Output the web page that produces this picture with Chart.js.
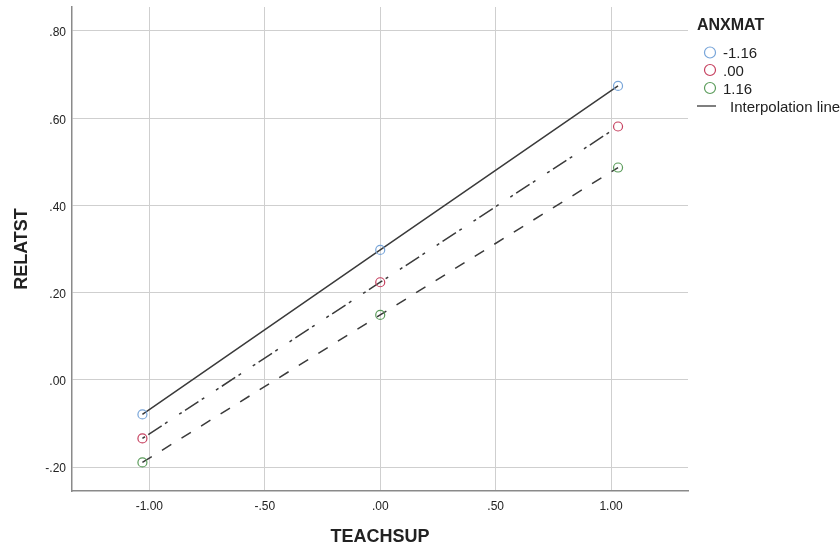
<!DOCTYPE html>
<html><head><meta charset="utf-8">
<script src="https://cdn.jsdelivr.net/npm/chart.js@4.4.0/dist/chart.umd.min.js"></script>
<style>html,body{margin:0;padding:0;background:#fff;} #wrap{width:840px;height:547px;position:relative;}</style>
</head><body><div id="wrap"><canvas id="c" width="840" height="547"></canvas></div>
<script>
// ---- data ----
const teachsup = [-1.03, 0.00, 1.03];
const anxmatLabels = ['-1.16', '.00', '1.16'];
const relatstLow  = [-0.079, 0.298, 0.674];  // ANXMAT -1.16
const relatstMid  = [-0.134, 0.224, 0.581];  // ANXMAT .00
const relatstHigh = [-0.189, 0.149, 0.487];  // ANXMAT 1.16
const xTicks = [-1.0, -0.5, 0.0, 0.5, 1.0];
const yTicks = [-0.2, 0.0, 0.2, 0.4, 0.6, 0.8];
const legendTitle = 'ANXMAT';
const lineLabel = 'Interpolation line';
const xTitle = 'TEACHSUP';
const yTitle = 'RELATST';

// ---- styles ----
const FONT = '"Liberation Sans", Arial, Helvetica, sans-serif';
const pointColors = ['#78a5d9', '#c6405f', '#5b9c5b'];
const lineColor = '#3a3a3a';
const dashes = [[], [3, 4, 16, 4, 3, 14], [11, 12]];

function fmt(v) {
  return Number(v).toFixed(2).replace(/^(-?)0\./, '$1.');
}
function pts(ys) { return teachsup.map((x, i) => ({x: x, y: ys[i]})); }

const series = [relatstLow, relatstMid, relatstHigh];
const datasets = [];
series.forEach((ys, i) => {
  datasets.push({
    label: lineLabel + ' ' + anxmatLabels[i],
    data: pts(ys),
    showLine: true,
    borderColor: lineColor,
    borderWidth: 1.5,
    borderDash: dashes[i],
    borderCapStyle: 'butt',
    pointRadius: 0,
    fill: false,
    order: 2
  });
});
series.forEach((ys, i) => {
  datasets.push({
    label: anxmatLabels[i],
    data: pts(ys),
    showLine: false,
    pointRadius: 4.5,
    pointBorderWidth: 1.2,
    pointBackgroundColor: 'rgba(0,0,0,0)',
    pointBorderColor: pointColors[i],
    order: 1
  });
});

const legendPlugin = {
  id: 'spssLegend',
  afterDraw(chart) {
    const ctx = chart.ctx;
    ctx.save();
    ctx.fillStyle = '#222';
    ctx.textBaseline = 'middle';
    ctx.textAlign = 'left';
    ctx.font = 'bold 16px ' + FONT;
    ctx.fillText(legendTitle, 697, 25.5);
    ctx.font = '15px ' + FONT;
    const rowsC = [52.5, 70, 88];
    const rowsT = [54, 72, 90];
    anxmatLabels.forEach((lab, i) => {
      ctx.beginPath();
      ctx.arc(710, rowsC[i], 5.5, 0, Math.PI * 2);
      ctx.strokeStyle = pointColors[i];
      ctx.lineWidth = 1.2;
      ctx.stroke();
      ctx.fillStyle = '#222';
      ctx.fillText(lab, 723, rowsT[i]);
    });
    ctx.beginPath();
    ctx.moveTo(697, 106);
    ctx.lineTo(716, 106);
    ctx.strokeStyle = lineColor;
    ctx.lineWidth = 1.3;
    ctx.stroke();
    ctx.fillText(lineLabel, 730, 107.5);
    ctx.restore();
  }
};

new Chart(document.getElementById('c'), {
  type: 'scatter',
  data: {datasets},
  options: {
    responsive: false,
    animation: false,
    devicePixelRatio: 1,
    layout: {padding: {left: 0, right: 152, top: 7, bottom: 0}},
    plugins: {legend: {display: false}, tooltip: {enabled: false}},
    scales: {
      x: {
        type: 'linear',
        min: -1.335, max: 1.333,
        afterBuildTicks: s => { s.ticks = xTicks.map(v => ({value: v})); },
        afterFit: s => { s.height = 56; s.paddingLeft = 0; s.paddingRight = 0; },
        grid: {color: '#cfcfcf', lineWidth: 1, drawTicks: false},
        border: {color: '#8a8a8a', width: 1.5},
        ticks: {
          callback: v => fmt(v), autoSkip: false, maxRotation: 0, padding: 8,
          color: '#222', font: {family: FONT, size: 12}
        },
        title: {display: true, text: xTitle, color: '#222',
          font: {family: FONT, size: 18, weight: 'bold'}, padding: {top: 0, bottom: -1}}
      },
      y: {
        type: 'linear',
        min: -0.2546, max: 0.855,
        afterBuildTicks: s => { s.ticks = yTicks.map(v => ({value: v})); },
        afterFit: s => { s.width = 72; s.paddingTop = 0; s.paddingBottom = 0; },
        grid: {color: '#cfcfcf', lineWidth: 1, drawTicks: false},
        border: {color: '#8a8a8a', width: 1.5},
        ticks: {
          callback: v => fmt(v), autoSkip: false, padding: 6, labelOffset: 2,
          color: '#222', font: {family: FONT, size: 12}
        },
        title: {display: true, text: yTitle, color: '#222',
          font: {family: FONT, size: 18, weight: 'bold'}, padding: {top: 11, bottom: 0}}
      }
    }
  },
  plugins: [legendPlugin]
});
</script>
</body></html>
